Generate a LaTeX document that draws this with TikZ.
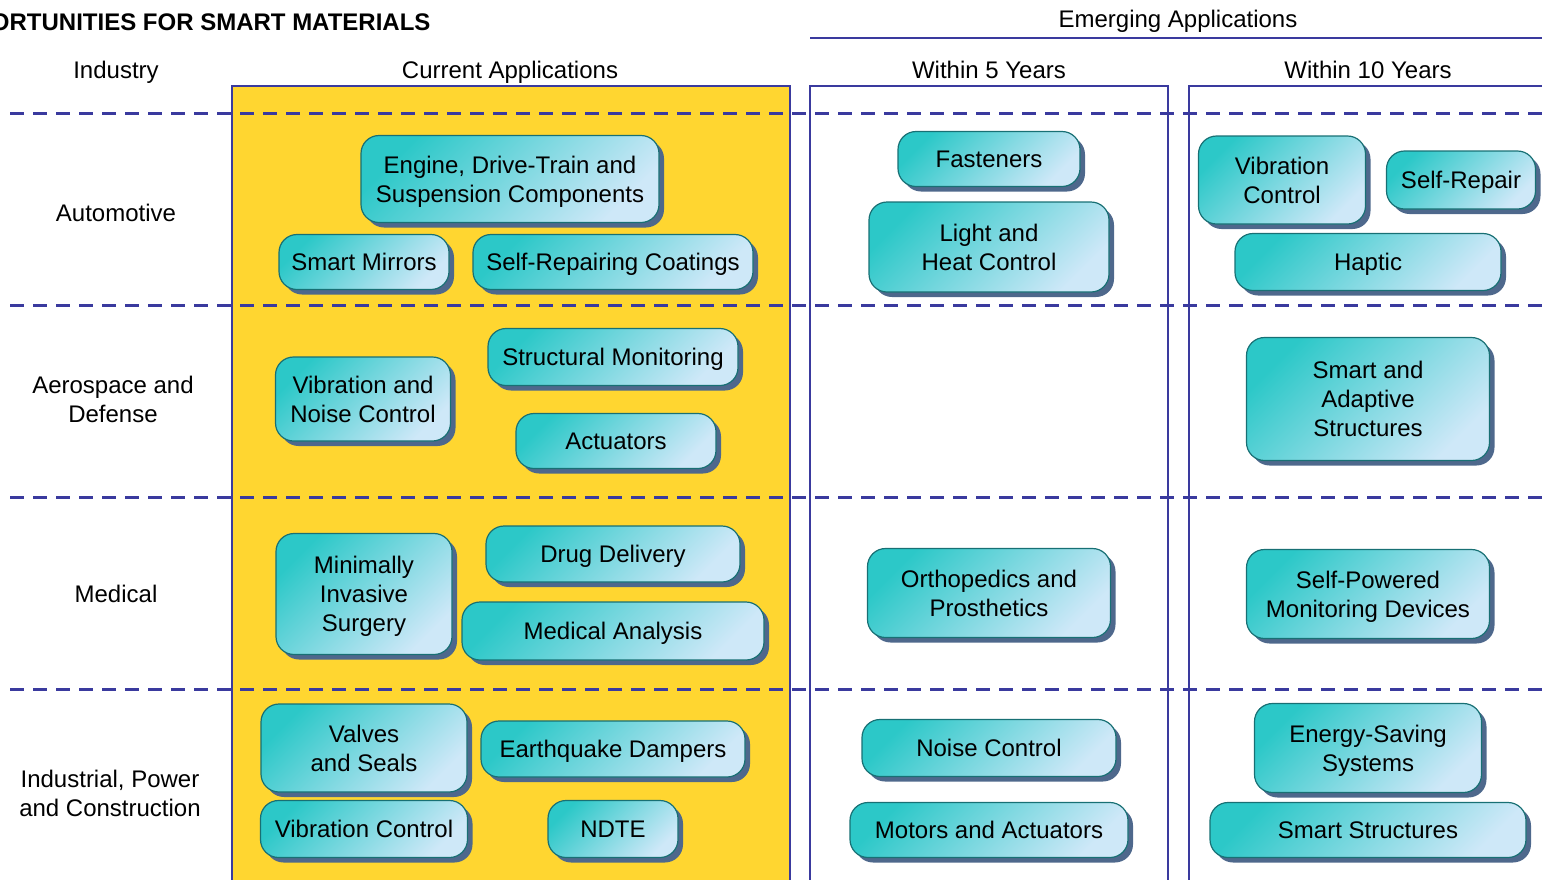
\documentclass[tikz,border=0pt]{standalone}
\usepackage{fontspec}
\setmainfont{Liberation Sans}
\usetikzlibrary{shadows}
\definecolor{indigo}{RGB}{58,58,158}
\definecolor{gold}{RGB}{255,214,48}
\definecolor{tealtop}{RGB}{44,200,200}
\definecolor{tealbot}{RGB}{206,232,248}
\definecolor{tealrim}{RGB}{24,112,116}
\definecolor{appshadow}{RGB}{78,104,140}
\tikzset{
  app/.style={draw=tealrim, line width=1.2pt, rounded corners=18pt,
    top color=tealtop, bottom color=tealbot, shading angle=45, align=center,
    drop shadow={shadow xshift=5pt, shadow yshift=-5pt, fill=appshadow, opacity=1}},
  rowline/.style={indigo, line width=3pt, dash pattern=on 14pt off 9pt},
  col/.style={draw=indigo, line width=2.5pt},
  lbl/.style={align=center}
}
\begin{document}
\begin{tikzpicture}[x=1pt, y=-1pt, font=\fontsize{24}{29}\selectfont,
    every node/.style={text depth=0pt}]
  \useasboundingbox (0,0) rectangle (1542,879);
  % headings
  \node[anchor=east, font=\fontsize{24}{29}\selectfont\bfseries] (title) at (434,22) {OPPORTUNITIES FOR SMART MATERIALS};
  \node (emerging) at (1178,19) {Emerging Applications};
  \draw[indigo, line width=2.5pt] (810,38) -- (1542,38);
  \node (industry) at (116,70) {Industry};
  \node (current) at (510,70) {Current Applications};
  \node (five) at (989,70) {Within 5 Years};
  \node (ten) at (1368,70) {Within 10 Years};
  % columns
  \draw[col, fill=gold] (232,86) rectangle (790,900);
  \draw[col] (810,86) rectangle (1168,900);
  \draw[col] (1189,86) rectangle (1560,900);
  % rows
  \foreach \y in {113,305,497,689}
    \draw[rowline] (10,\y) -- (1542,\y);
  \node[lbl] (auto) at (116,213) {Automotive};
  \node[lbl] (aero) at (113,399) {Aerospace and\\Defense};
  \node[lbl] (med) at (116,594) {Medical};
  \node[lbl] (ind) at (110,793) {Industrial, Power\\and Construction};
  % current applications
  \node[app, minimum width=298pt, minimum height=87pt] (engine) at (510,179) {Engine, Drive-Train and\\Suspension Components};
  \node[app, minimum width=170pt, minimum height=55pt] (mirrors) at (364,262) {Smart Mirrors};
  \node[app, minimum width=280pt, minimum height=55pt] (coatings) at (613,262) {Self-Repairing Coatings};
  \node[app, minimum width=250pt, minimum height=57pt] (structmon) at (613,357) {Structural Monitoring};
  \node[app, minimum width=175pt, minimum height=84pt] (vibnoise) at (363,399) {Vibration and\\Noise Control};
  \node[app, minimum width=200pt, minimum height=55pt] (actuators) at (616,441) {Actuators};
  \node[app, minimum width=176pt, minimum height=121pt] (surgery) at (364,594) {Minimally\\Invasive\\Surgery};
  \node[app, minimum width=254pt, minimum height=56pt] (drug) at (613,554) {Drug Delivery};
  \node[app, minimum width=302pt, minimum height=58pt] (analysis) at (613,631) {Medical Analysis};
  \node[app, minimum width=206pt, minimum height=88pt] (valves) at (364,748) {Valves\\and Seals};
  \node[app, minimum width=264pt, minimum height=56pt] (quake) at (613,749) {Earthquake Dampers};
  \node[app, minimum width=207pt, minimum height=57pt] (vibctl) at (364,829) {Vibration Control};
  \node[app, minimum width=130pt, minimum height=57pt] (ndte) at (613,829) {NDTE};
  % within 5 years
  \node[app, minimum width=182pt, minimum height=55pt] (fasteners) at (989,159) {Fasteners};
  \node[app, minimum width=240pt, minimum height=90pt] (lightheat) at (989,247) {Light and\\Heat Control};
  \node[app, minimum width=243pt, minimum height=89pt] (ortho) at (989,593) {Orthopedics and\\Prosthetics};
  \node[app, minimum width=254pt, minimum height=57pt] (noise) at (989,748) {Noise Control};
  \node[app, minimum width=278pt, minimum height=55pt] (motors) at (989,830) {Motors and Actuators};
  % within 10 years
  \node[app, minimum width=167pt, minimum height=88pt] (vibctlten) at (1282,180) {Vibration\\Control};
  \node[app, minimum width=149pt, minimum height=58pt] (selfrepair) at (1461,180) {Self-Repair};
  \node[app, minimum width=266pt, minimum height=57pt] (haptic) at (1368,262) {Haptic};
  \node[app, minimum width=243pt, minimum height=123pt] (adaptive) at (1368,399) {Smart and\\Adaptive\\Structures};
  \node[app, minimum width=243pt, minimum height=89pt] (selfpowered) at (1368,594) {Self-Powered\\Monitoring Devices};
  \node[app, minimum width=227pt, minimum height=89pt] (energy) at (1368,748) {Energy-Saving\\Systems};
  \node[app, minimum width=316pt, minimum height=55pt] (smartstruct) at (1368,830) {Smart Structures};
\end{tikzpicture}
\end{document}
